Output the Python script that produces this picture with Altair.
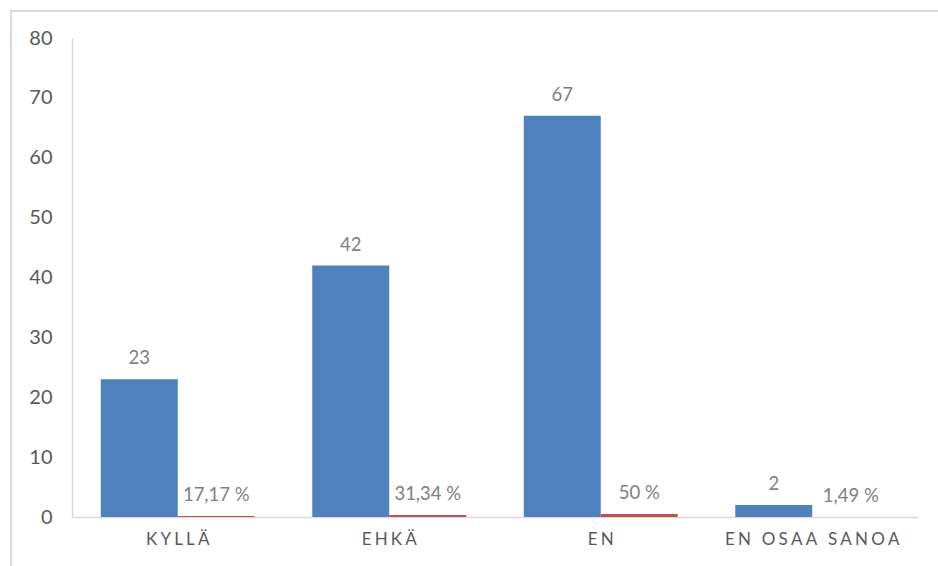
import altair as alt
import pandas as pd

# Survey answers: count of respondents and share of all answers
categories = ["KYLLÄ", "EHKÄ", "EN", "EN OSAA SANOA"]
counts = [23, 42, 67, 2]
shares = [0.1717, 0.3134, 0.50, 0.0149]
share_labels = ["17,17 %", "31,34 %", "50 %", "1,49 %"]

series = ["Lukumäärä", "Osuus"]
colors = ["#4F81BD", "#C0504D"]

rows = []
for cat, n, s, s_lab in zip(categories, counts, shares, share_labels):
    rows.append({"vastaus": cat, "sarja": series[0], "arvo": n, "teksti": str(n)})
    rows.append({"vastaus": cat, "sarja": series[1], "arvo": s, "teksti": s_lab})
df = pd.DataFrame(rows)

FONT = "Lato"

x_enc = alt.X(
    "vastaus:N",
    sort=categories,
    scale=alt.Scale(paddingInner=0.272, paddingOuter=0.136),
    axis=alt.Axis(
        title=None,
        labelAngle=0,
        ticks=False,
        domainColor="#d9d9d9",
        domainWidth=1.5,
        labelColor="#595959",
        labelFont=FONT,
        labelFontSize=17,
        labelPadding=14,
        labelExpr="join(split(datum.label, ''), '\u2009\u200a')",
    ),
)
xoff = alt.XOffset("sarja:N", sort=series, scale=alt.Scale(paddingInner=0, paddingOuter=0))
y_enc = alt.Y(
    "arvo:Q",
    scale=alt.Scale(domain=[0, 80], nice=False),
    axis=alt.Axis(
        title=None,
        values=list(range(0, 81, 10)),
        grid=False,
        ticks=False,
        domainColor="#d9d9d9",
        domainWidth=1.5,
        labelColor="#595959",
        labelFont=FONT,
        labelFontSize=20,
        labelPadding=20,
    ),
)

bars = alt.Chart(df).mark_bar().encode(
    x=x_enc,
    xOffset=xoff,
    y=y_enc,
    color=alt.Color("sarja:N", sort=series, scale=alt.Scale(domain=series, range=colors), legend=None),
)

labels = alt.Chart(df).mark_text(
    baseline="alphabetic", dy=-15, font=FONT, fontSize=18.5, color="#7f7f7f"
).encode(
    x=alt.X("vastaus:N", sort=categories),
    xOffset=xoff,
    y="arvo:Q",
    text="teksti:N",
)

# light frame around the chart area
frame = alt.Chart(pd.DataFrame({"k": [0]})).mark_rect(
    fill=None, stroke="#d9d9d9", strokeWidth=2
).encode(
    x=alt.value(-61), x2=alt.value(960), y=alt.value(-27), y2=alt.value(600)
)

chart = (
    alt.layer(frame, bars, labels)
    .properties(
        width=846,
        height=479,
        padding={"left": 72, "top": 38, "right": 20, "bottom": 49},
        autosize=alt.AutoSizeParams(type="none"),
        background="white",
    )
    .configure_view(stroke=None)
)

chart.save("out.html", embed_options={"renderer": "svg", "actions": False})
